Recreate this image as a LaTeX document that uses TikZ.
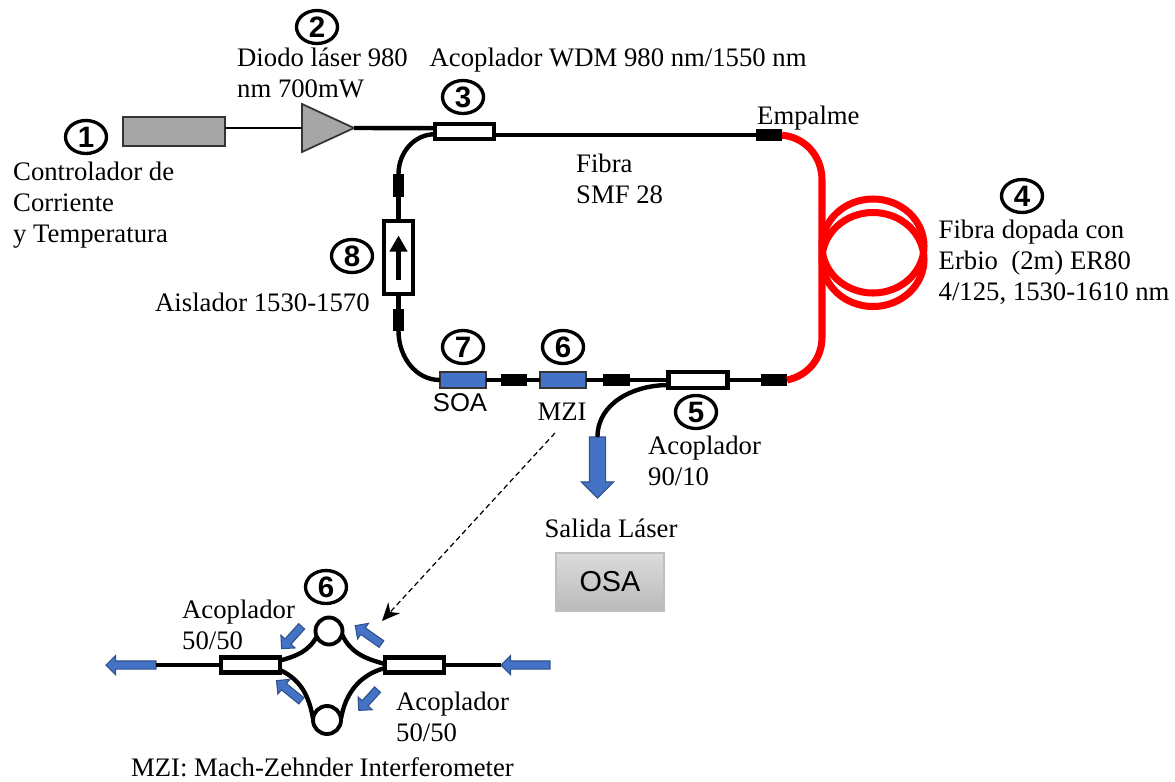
\documentclass[tikz,border=0pt]{standalone}
\usepackage{xcolor}
\usepackage{fontspec}
\setmainfont{Liberation Serif}
\newfontfamily\arialfont{Liberation Sans}
\usepackage{tikz}
\usetikzlibrary{arrows.meta,shapes.geometric,shapes.arrows}
\definecolor{pumpgray}{HTML}{A6A6A6}
\definecolor{soablue}{HTML}{4472C4}
\definecolor{soaedge}{HTML}{2F528F}
\tikzset{
  fibre/.style={line width=1.25pt,black},
  thinfibre/.style={line width=0.5pt,black},
  erfibre/.style={line width=2pt,red},
  splice/.style={rectangle,fill=black,inner sep=0pt,outer sep=0pt},
  coupler/.style={rectangle,draw=black,fill=white,line width=1.15pt,inner sep=0pt,outer sep=0pt,minimum width=0.59cm,minimum height=0.15cm},
  bluebox/.style={rectangle,draw=black!80,fill=soablue,line width=0.5pt,inner sep=0pt,outer sep=0pt,minimum width=0.46cm,minimum height=0.16cm},
  numlabel/.style={ellipse,draw=black,line width=0.95pt,inner sep=0pt,minimum width=0.41cm,minimum height=0.33cm,font=\arialfont\bfseries\fontsize{8.4}{9}\selectfont},
  txt/.style={anchor=west,align=left,inner sep=0pt,font=\fontsize{7.6}{8.8}\selectfont},
  ctxt/.style={inner sep=0pt,align=center,font=\fontsize{7.6}{8.8}\selectfont},
  sanstxt/.style={inner sep=0pt,font=\arialfont\fontsize{7.3}{8.8}\selectfont},
  bluearrow/.style={single arrow,draw=soaedge,fill=soablue,line width=0.3pt,inner xsep=0pt,inner ysep=0.035cm,outer sep=0pt,single arrow head extend=0.055cm,single arrow tip angle=90}
}
\begin{document}
\begin{tikzpicture}
\useasboundingbox (0,0) rectangle (11.75,7.81);

\node[rectangle,draw=black!80,fill=pumpgray,line width=0.5pt,inner sep=0pt,outer sep=0pt,minimum width=1.02cm,minimum height=0.29cm] (ctrl) at (1.74,6.495) {};
\node[isosceles triangle,isosceles triangle stretches,shape border rotate=0,draw=black!80,fill=pumpgray,line width=0.5pt,inner sep=0pt,outer sep=0pt,minimum width=0.48cm,minimum height=0.52cm,anchor=lower side] (laser) at (3.02,6.53) {};
\node[coupler] (wdm) at (4.645,6.493) {};
\node[splice,minimum width=0.26cm,minimum height=0.125cm] (spE) at (7.69,6.458) {};
\node[splice,minimum width=0.115cm,minimum height=0.23cm] (spT) at (3.985,5.955) {};
\node[coupler,minimum width=0.29cm,minimum height=0.73cm] (iso) at (3.985,5.235) {};
\node[splice,minimum width=0.115cm,minimum height=0.22cm] (spB) at (3.985,4.61) {};
\node[bluebox] (soa) at (4.63,4.01) {};
\node[splice,minimum width=0.26cm,minimum height=0.115cm] (spC) at (5.14,4.01) {};
\node[bluebox] (mzi) at (5.63,4.01) {};
\node[splice,minimum width=0.27cm,minimum height=0.115cm] (spD) at (6.165,4.01) {};
\node[coupler,minimum height=0.16cm] (cplO) at (6.98,4.01) {};
\node[splice,minimum width=0.26cm,minimum height=0.12cm] (spS) at (7.74,4.01) {};
\node[bluearrow,minimum height=0.61cm,minimum width=0.31cm,inner ysep=0.075cm,single arrow head extend=0.08cm,rotate=-90] (outA) at (5.975,3.175) {};
\coordinate (redA) at (8.22,6.01);
\coordinate (redB) at (8.22,4.44);

\draw[thinfibre] ([yshift=0.035cm]ctrl.east) -- (laser.lower side);
\draw[fibre] (laser.apex) -- ([yshift=0.035cm]wdm.west);
\draw[fibre] ([yshift=-0.035cm]wdm.east) -- (spE.west);
\draw[fibre] ([yshift=-0.025cm]wdm.west) to[out=180,in=90] (spT.north);
\draw[fibre] (spT.south) -- (iso.north);
\draw[fibre] (iso.south) -- (spB.north);
\draw[fibre] (spB.south) to[out=-90,in=180] (soa.west);
\draw[fibre] (soa.east) -- (spC.west);
\draw[fibre] (spC.east) -- (mzi.west);
\draw[fibre] (mzi.east) -- (spD.west);
\draw[fibre] (spD.east) -- (cplO.west);
\draw[fibre] (cplO.east) -- (spS.west);
\draw[fibre] ([yshift=-0.05cm]cplO.west) to[out=180,in=90] (outA.west);
\draw[line width=1.3pt,-{Triangle[length=0.16cm,width=0.17cm]}] ([yshift=-0.22cm]iso.center) -- ([yshift=0.22cm]iso.center);

\draw[erfibre] (spE.east) to[out=-5,in=90] (redA) -- (redB) to[out=-90,in=12] (spS.east);
\draw[erfibre] (8.73,5.35) ellipse (0.51 and 0.47);
\draw[erfibre] (8.73,5.215) ellipse (0.51 and 0.47);

\node[numlabel] (nA) at (0.86,6.44) {1};
\node[numlabel] (nB) at (3.17,7.54) {2};
\node[numlabel] (nC) at (4.63,6.84) {3};
\node[numlabel] (nD) at (10.22,5.85) {4};
\node[numlabel] (nE) at (6.96,3.69) {5};
\node[numlabel] (nF) at (5.63,4.34) {6};
\node[numlabel] (nG) at (4.63,4.34) {7};
\node[numlabel] (nH) at (3.52,5.25) {8};
\node[numlabel] (nI) at (3.26,1.94) {6};

\node[txt] (lblCtrl) at (0.125,5.76) {Controlador de\\Corriente\\y Temperatura};
\node[txt] (lblLaser) at (2.365,7.08) {Diodo láser 980\\nm 700mW};
\node[txt] (lblWdm) at (4.29,7.21) {Acoplador WDM 980 nm/1550 nm};
\node[txt] (lblSplice) at (7.565,6.63) {Empalme};
\node[txt] (lblSmf) at (5.755,6.02) {Fibra\\SMF 28};
\node[txt] (lblEr) at (9.38,5.19) {Fibra dopada con\\Erbio\ \ (2m) ER80\\4/125, 1530-1610 nm};
\node[txt] (lblIso) at (1.545,4.79) {Aislador 1530-1570};
\node[sanstxt] (lblSoa) at (4.60,3.78) {SOA};
\node[ctxt] (lblMzi) at (5.62,3.69) {MZI};
\node[txt] (lblOut) at (6.475,3.20) {Acoplador\\90/10};
\node[ctxt] (lblLaserOut) at (6.11,2.53) {Salida Láser};
\node[rectangle,top color=black!14,bottom color=black!27,draw=black!25,line width=0.3pt,inner sep=0pt,minimum width=1.08cm,minimum height=0.58cm,font=\arialfont\fontsize{8.2}{9}\selectfont] (osa) at (6.10,1.99) {OSA};

\node[coupler,line width=1.25pt] (cplL) at (2.505,1.16) {};
\node[coupler,line width=1.25pt] (cplR) at (4.145,1.16) {};
\node[circle,draw=black,line width=1.1pt,inner sep=0pt,outer sep=0pt,minimum size=0.27cm] (ringT) at (3.29,1.50) {};
\node[circle,draw=black,line width=1.1pt,inner sep=0pt,outer sep=0pt,minimum size=0.28cm] (ringB) at (3.27,0.61) {};
\node[bluearrow,minimum height=0.50cm,minimum width=0.18cm,rotate=180] (outL) at (1.33,1.16) {};
\node[bluearrow,minimum height=0.49cm,minimum width=0.18cm,rotate=180] (inR) at (5.275,1.16) {};
\node[bluearrow,minimum height=0.30cm,minimum width=0.18cm,rotate=228] (arTL) at (2.93,1.45) {};
\node[bluearrow,minimum height=0.32cm,minimum width=0.18cm,rotate=145] (arTR) at (3.70,1.45) {};
\node[bluearrow,minimum height=0.32cm,minimum width=0.18cm,rotate=141] (arBL) at (2.905,0.89) {};
\node[bluearrow,minimum height=0.28cm,minimum width=0.18cm,rotate=228] (arBR) at (3.695,0.825) {};

\draw[fibre] (outL.west) -- (cplL.west);
\draw[fibre] (cplR.east) -- (inR.east);
\draw[fibre] ([yshift=0.045cm]cplL.east) to[out=15,in=240] (ringT.205);
\draw[fibre] ([yshift=-0.05cm]cplL.east) to[out=-25,in=100] (ringB.175);
\draw[fibre] (ringT.-15) to[out=-65,in=165] ([yshift=0.01cm]cplR.west);
\draw[fibre] (ringB.5) to[out=80,in=195] ([yshift=-0.03cm]cplR.west);

\coordinate (dashA) at (5.55,3.48);
\coordinate (dashB) at (3.82,1.60);
\draw[line width=0.35pt,dash pattern=on 1.5pt off 1pt,-{Stealth[length=0.18cm,width=0.16cm]}] (dashA) -- (dashB);

\node[txt] (lblCplL) at (1.815,1.56) {Acoplador\\50/50};
\node[txt] (lblCplR) at (3.955,0.64) {Acoplador\\50/50};
\node[ctxt] (lblMziFull) at (3.225,0.14) {MZI: Mach-Zehnder Interferometer};
\end{tikzpicture}
\end{document}
